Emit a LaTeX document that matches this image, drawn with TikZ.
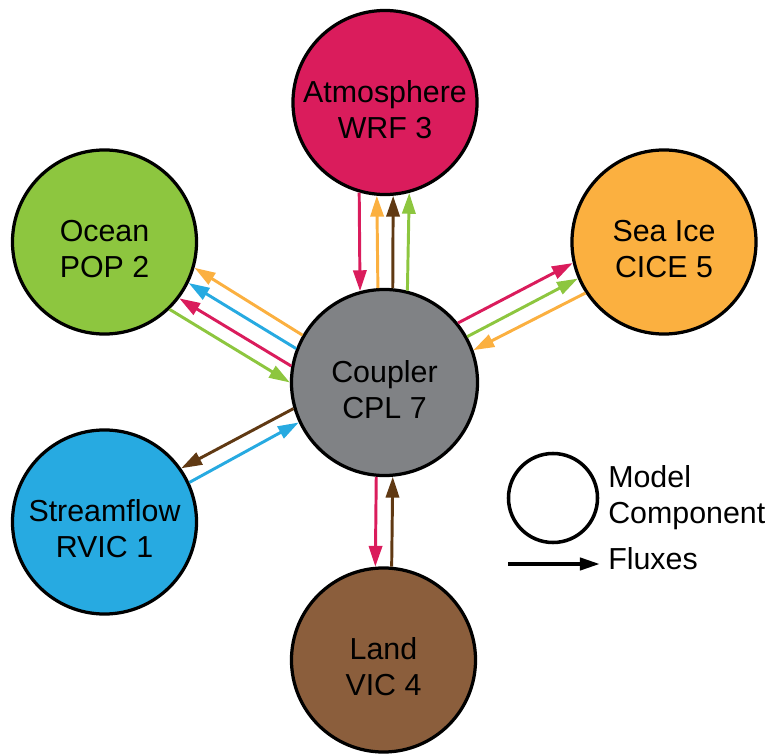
\documentclass[tikz,border=0pt]{standalone}
\usepackage{fontspec}
\setmainfont{Liberation Sans}
\usetikzlibrary{arrows.meta}
\definecolor{atmpink}{HTML}{DA1C5C}
\definecolor{ocngreen}{HTML}{8DC63F}
\definecolor{iceorange}{HTML}{FBB040}
\definecolor{cplgray}{HTML}{808285}
\definecolor{rofblue}{HTML}{27AAE1}
\definecolor{lndbrown}{HTML}{8B5E3C}
\definecolor{fluxbrown}{HTML}{603913}

\begin{document}
\begin{tikzpicture}[x=0.025cm, y=-0.025cm,
  comp/.style={circle, draw=black, line width=2.3pt, minimum size=4.6cm, inner sep=0pt, align=center,
    font=\fontsize{21.6}{25.6}\selectfont, execute at begin node={\rule{0pt}{51pt}}},
  flux/.style={-{Triangle[length=0.52cm, width=0.33cm]}, line width=2.1pt},
  legtext/.style={inner sep=0pt, align=left, font=\fontsize{21.6}{25.6}\selectfont}
]
  \useasboundingbox (0,0) rectangle (771,754);

  % model components
  \node[comp, fill=cplgray, minimum size=4.65cm] (cpl) at (384.5,382.5) {Coupler\\CPL 7};
  \node[comp, fill=atmpink] (atm) at (385,102.5) {Atmosphere\\WRF 3};
  \node[comp, fill=ocngreen] (ocn) at (104.5,242) {Ocean\\POP 2};
  \node[comp, fill=iceorange] (ice) at (664,242) {Sea Ice\\CICE 5};
  \node[comp, fill=rofblue] (rof) at (104.5,522) {Streamflow\\RVIC 1};
  \node[comp, fill=lndbrown] (lnd) at (383.5,660) {Land\\VIC 4};

  % fluxes atmosphere
  \draw[flux, atmpink] (atm.-106) -- (cpl.105.5);
  \draw[flux, iceorange] (cpl.94.5) -- (atm.-95);
  \draw[flux, fluxbrown] (cpl.85.5) -- (atm.-85.5);
  \draw[flux, ocngreen] (cpl.76) -- (atm.-75.5);

  % fluxes ocean
  \draw[flux, iceorange] (cpl.150) -- (ocn.-16.5);
  \draw[flux, rofblue] (cpl.159) -- (ocn.-26);
  \draw[flux, atmpink] (cpl.170.5) -- (ocn.-37);
  \draw[flux, ocngreen] (ocn.-46.5) -- (cpl.180.5);

  % fluxes sea ice
  \draw[flux, atmpink] (cpl.39.5) -- (ice.193.5);
  \draw[flux, ocngreen] (cpl.29.5) -- (ice.203.5);
  \draw[flux, iceorange] (ice.213.5) -- (cpl.20);

  % fluxes streamflow
  \draw[flux, fluxbrown] (cpl.196.7) -- (rof.35);
  \draw[flux, rofblue] (rof.25.6) -- (cpl.205.6);

  % fluxes land
  \draw[flux, atmpink] (cpl.-95.5) -- (lnd.95);
  \draw[flux, fluxbrown] (lnd.85) -- (cpl.-85.5);

  % legend
  \node[circle, draw=black, line width=2.5pt, minimum size=2.225cm] (leg) at (553,498) {};
  \node[legtext, anchor=north west] (legcomp) at (608,465) {Model\\Component};
  \node[legtext, anchor=base west] (legflux) at (608,570) {Fluxes};
  \coordinate (fluxtail) at (508,564);
  \coordinate (fluxtip) at (600,564);
  \draw[-{Triangle[length=0.5cm, width=0.3cm]}, line width=2.8pt] (fluxtail) -- (fluxtip);
\end{tikzpicture}
\end{document}
